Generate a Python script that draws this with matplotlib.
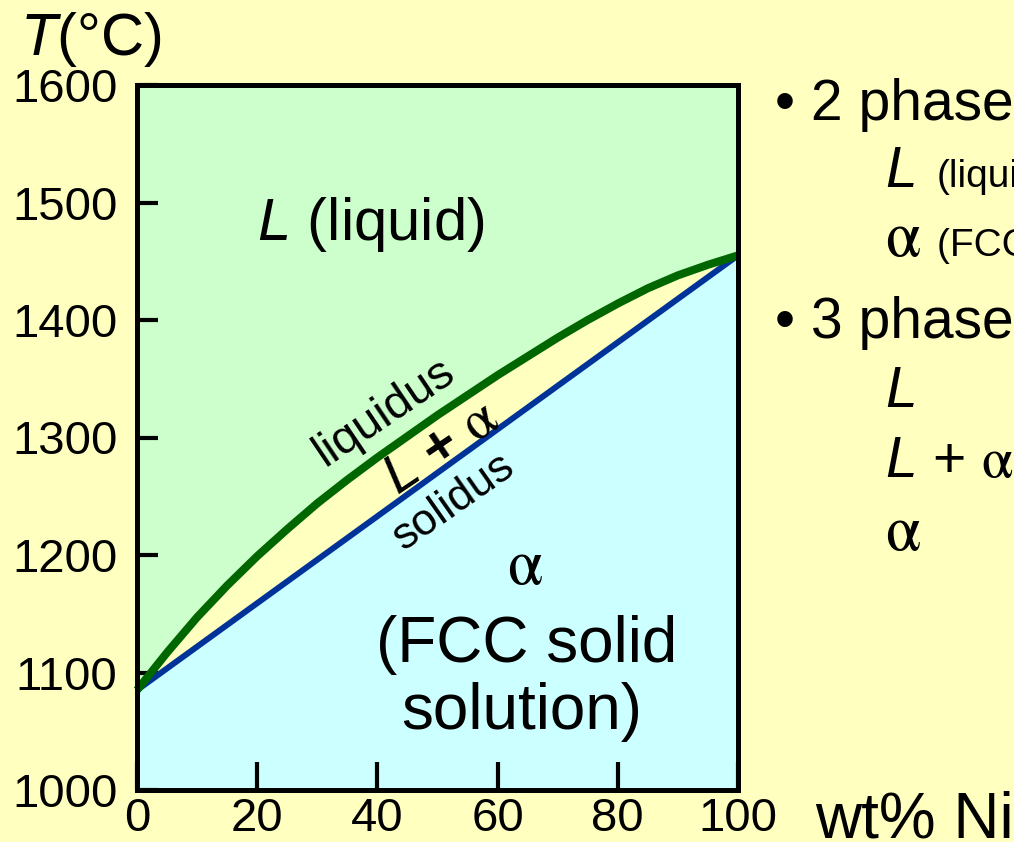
import matplotlib.pyplot as plt

# -----------------------------
# Data (Cu-Ni phase diagram)
# -----------------------------
ni_wt = [0, 5, 10, 15, 20, 25, 30, 35, 40, 45, 50, 55, 60, 65, 70, 75, 80, 85, 90, 95, 100]
liquidus_T = [1085, 1117, 1147, 1174, 1199, 1222, 1244, 1264, 1283, 1301, 1319,
              1336, 1353, 1369, 1385, 1400, 1414, 1427, 1438, 1447, 1455]
solidus_ni = [0, 100]
solidus_T = [1085, 1455]

x_ticks = [0, 20, 40, 60, 80, 100]
y_ticks = [1000, 1100, 1200, 1300, 1400, 1500, 1600]

BG = "#FFFFC0"
GREEN_FILL = "#CCFFCC"
CYAN_FILL = "#CCFFFF"
GREEN_LINE = "#006600"
BLUE_LINE = "#003399"

plt.rcParams["font.family"] = ["Liberation Sans", "DejaVu Sans"]
plt.rcParams["mathtext.fontset"] = "custom"
plt.rcParams["mathtext.rm"] = "STIXGeneral"
plt.rcParams["mathtext.it"] = "Liberation Sans:italic"
plt.rcParams["mathtext.bf"] = "Liberation Sans:bold"

ALPHA = r"$\mathrm{\alpha}$"
LI = r"$\mathit{L}$"

fig = plt.figure(figsize=(10.14, 8.42), dpi=100, facecolor=BG)
ax = fig.add_axes([137 / 1014, 1 - 790 / 842, (738 - 137) / 1014, (790 - 85) / 842])
ax.set_facecolor(BG)

# regions
solidus_on_grid = [solidus_T[0] + (solidus_T[1] - solidus_T[0]) * v / 100 for v in ni_wt]
ax.fill_between(ni_wt, liquidus_T, 1600, color=GREEN_FILL, lw=0, zorder=1)
ax.fill_between(ni_wt, 1000, solidus_on_grid, color=CYAN_FILL, lw=0, zorder=1)

# boundaries
ax.plot(ni_wt, liquidus_T, color=GREEN_LINE, lw=5.8, zorder=4, solid_capstyle="butt",
        solid_joinstyle="round", clip_on=False)
ax.plot(solidus_ni, solidus_T, color=BLUE_LINE, lw=4.3, zorder=3, solid_capstyle="butt", clip_on=False)

ax.set_xlim(0, 100)
ax.set_ylim(1000, 1600)
ax.set_xticks(x_ticks)
ax.set_yticks(y_ticks)
ax.tick_params(axis="x", direction="in", length=20, width=3, labelsize=34, pad=5, color="black")
ax.tick_params(axis="y", direction="in", length=15, width=3, labelsize=34, pad=14, color="black")
for s in ax.spines.values():
    s.set_linewidth(3.6)
    s.set_zorder(5)

# region labels
ax.text(38.8, 1481, LI + " (liquid)", fontsize=43, ha="center", va="center", zorder=6)
ax.text(64.6, 1190, ALPHA, fontsize=46, ha="center", va="center", zorder=6)
ax.text(64.9, 1123, "(FCC solid", fontsize=46, ha="center", va="center", zorder=6)
ax.text(64.0, 1066, "solution)", fontsize=46, ha="center", va="center", zorder=6)

ax.text(41.3, 1322, "liquidus", fontsize=34, rotation=34, rotation_mode="anchor",
        ha="center", va="center", zorder=6)
ax.text(50.6, 1290, LI + r" $\mathbf{+}$ " + ALPHA, fontsize=40, rotation=34, rotation_mode="anchor",
        ha="center", va="center", zorder=6)
ax.text(52.7, 1245, "solidus", fontsize=32, rotation=35, rotation_mode="anchor",
        ha="center", va="center", zorder=6)

# axis titles
fig.text(20 / 1014, 1 - 55 / 842, r"$\mathit{T}$(°C)", fontsize=43, ha="left", va="baseline")
fig.text(815 / 1014, 1 - 838 / 842, "wt% Ni", fontsize=46, ha="left", va="baseline")

# side notes (cut off by the figure edge, as in the slide)
fig.text(775 / 1014, 1 - 120 / 842, "• 2 phases:", fontsize=41, ha="left", va="baseline")
fig.text(885 / 1014, 1 - 187 / 842, LI, fontsize=41, ha="left", va="baseline")
fig.text(937 / 1014, 1 - 187 / 842, "(liquid)", fontsize=28, ha="left", va="baseline")
fig.text(885 / 1014, 1 - 256 / 842, ALPHA, fontsize=46, ha="left", va="baseline")
fig.text(937 / 1014, 1 - 256 / 842, "(FCC solid solution)", fontsize=28, ha="left", va="baseline")
fig.text(775 / 1014, 1 - 338 / 842, "• 3 phase fields:", fontsize=41, ha="left", va="baseline")
fig.text(885 / 1014, 1 - 407 / 842, LI, fontsize=41, ha="left", va="baseline")
fig.text(885 / 1014, 1 - 477 / 842, LI + " + " + ALPHA, fontsize=41, ha="left", va="baseline")
fig.text(885 / 1014, 1 - 550 / 842, ALPHA, fontsize=46, ha="left", va="baseline")

fig.savefig("out.png", dpi=100, facecolor=BG)
